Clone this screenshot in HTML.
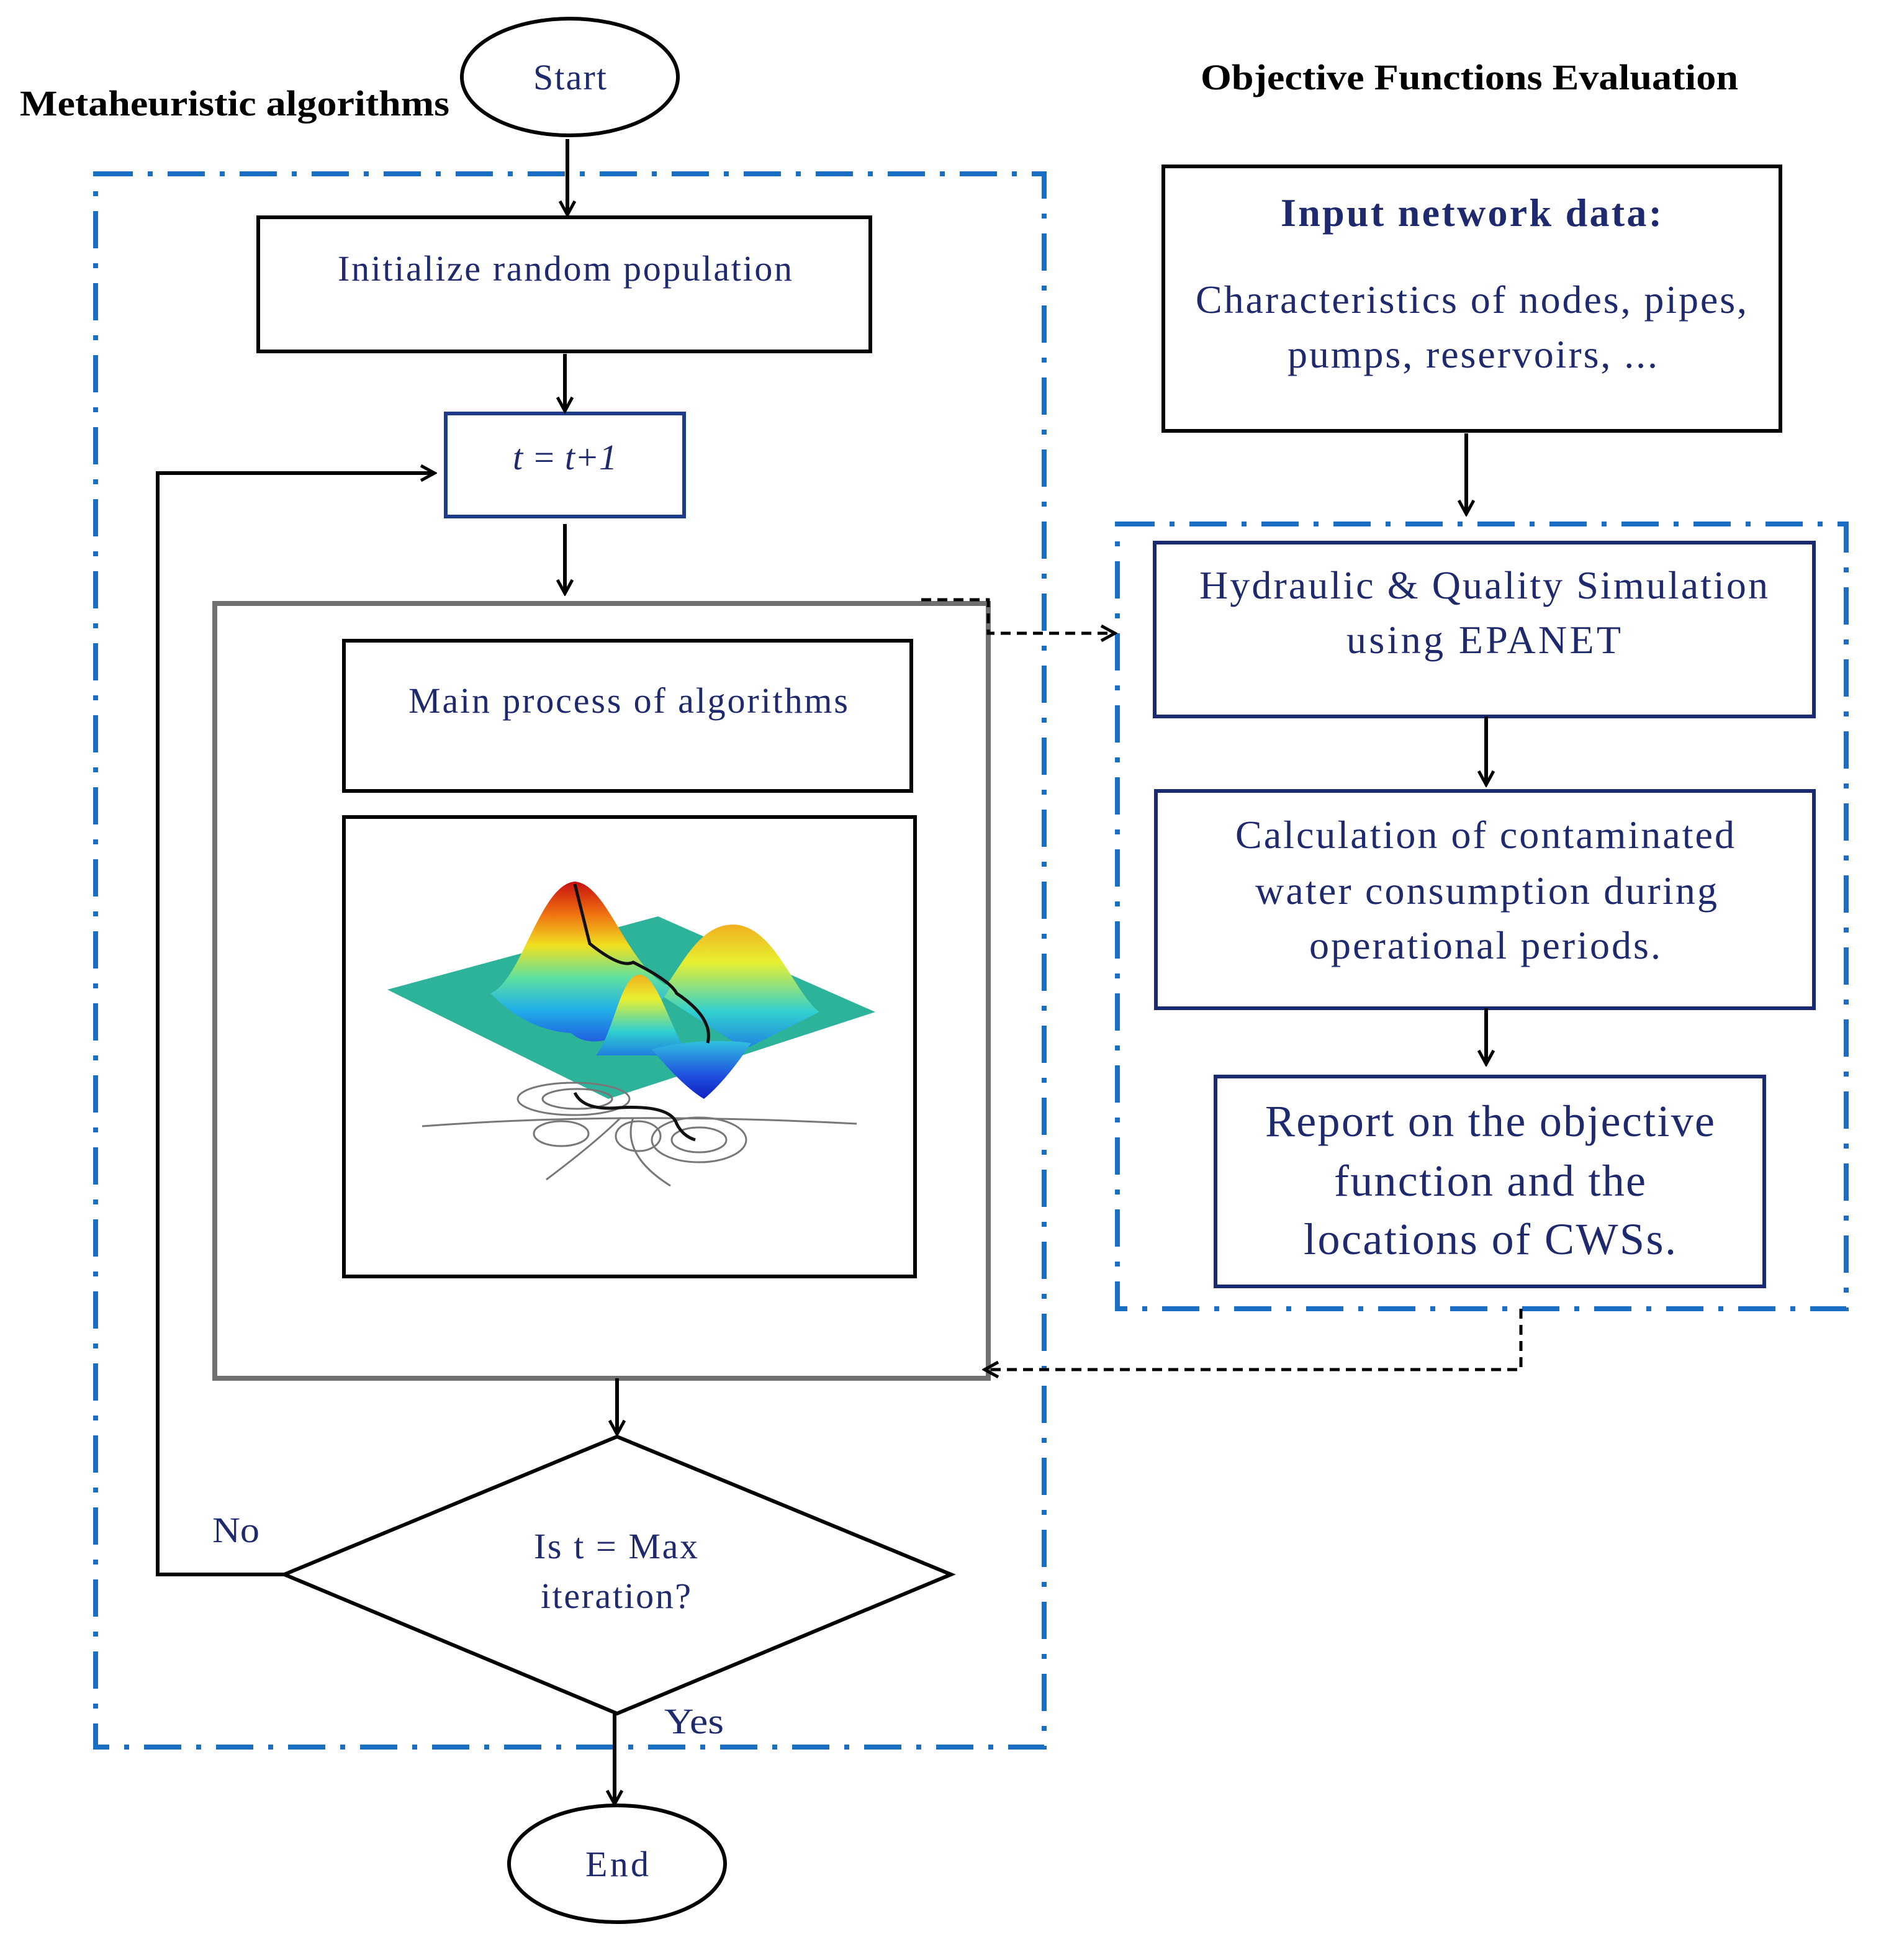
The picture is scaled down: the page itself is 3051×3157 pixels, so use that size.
<!DOCTYPE html>
<html><head><style>html,body{margin:0;padding:0;background:#fff}svg{display:block}</style></head>
<body>
<svg width="3051" height="3157" viewBox="0 0 1525.5 1578.5" xmlns="http://www.w3.org/2000/svg" font-family="Liberation Serif, serif">
<defs>
<marker id="ah" markerWidth="14" markerHeight="14" refX="12" refY="7" orient="auto" markerUnits="userSpaceOnUse"><path d="M1,1 L12,7 L1,13" fill="none" stroke="#000" stroke-width="2.5"/></marker>
<linearGradient id="red" x1="0" y1="0" x2="0" y2="1"><stop offset="0" stop-color="#c81010"/><stop offset="0.2" stop-color="#f07010"/><stop offset="0.4" stop-color="#f0e020"/><stop offset="0.6" stop-color="#60e0a0"/><stop offset="0.8" stop-color="#20b0e8"/><stop offset="1" stop-color="#2060e0"/></linearGradient>
<linearGradient id="yel" x1="0" y1="0" x2="0" y2="1"><stop offset="0" stop-color="#f0b020"/><stop offset="0.3" stop-color="#e8f030"/><stop offset="0.7" stop-color="#30d0d0"/><stop offset="1" stop-color="#2080e0"/></linearGradient>
<linearGradient id="blu" x1="0" y1="0" x2="0" y2="1"><stop offset="0" stop-color="#30c0e0"/><stop offset="0.6" stop-color="#2050e0"/><stop offset="1" stop-color="#1020c0"/></linearGradient>
</defs>
<g fill="none" stroke-linecap="butt">
<rect x="77" y="140" width="764" height="1267" stroke="#1a6fc4" stroke-width="4" stroke-dasharray="30,12,4,12"/>
<rect x="900" y="422" width="587" height="632" stroke="#1a6fc4" stroke-width="4" stroke-dasharray="30,12,4,12"/>
<ellipse cx="459" cy="62" rx="87" ry="47" stroke="#000" stroke-width="3"/>
<ellipse cx="497" cy="1501" rx="87" ry="47" stroke="#000" stroke-width="3"/>
<rect x="208" y="175" width="493" height="108" stroke="#000" stroke-width="3"/>
<rect x="359" y="333" width="192" height="83" stroke="#1f3a8a" stroke-width="3"/>
<rect x="173" y="486" width="623" height="624" stroke="#707070" stroke-width="4"/>
<rect x="277" y="516" width="457" height="121" stroke="#000" stroke-width="3"/>
<rect x="277" y="658" width="460" height="370" stroke="#000" stroke-width="3"/>
<polygon points="497,1157 766,1268 497,1380 229,1268" stroke="#000" stroke-width="3"/>
<rect x="937" y="134" width="497" height="213" stroke="#000" stroke-width="3"/>
<rect x="930" y="437" width="531" height="140" stroke="#1a2a70" stroke-width="3"/>
<rect x="931" y="637" width="530" height="175" stroke="#1a2a70" stroke-width="3"/>
<rect x="979" y="867" width="442" height="169" stroke="#1a2a70" stroke-width="3"/>
<g stroke="#000" stroke-width="3" marker-end="url(#ah)">
<line x1="457" y1="112" x2="457" y2="173"/>
<line x1="455" y1="285" x2="455" y2="331"/>
<line x1="455" y1="422" x2="455" y2="478"/>
<line x1="497" y1="1110" x2="497" y2="1155"/>
<line x1="495" y1="1380" x2="495" y2="1453"/>
<polyline points="229,1268 127,1268 127,381 350,381"/>
<line x1="1181" y1="349" x2="1181" y2="414"/>
<line x1="1197" y1="577" x2="1197" y2="632"/>
<line x1="1197" y1="812" x2="1197" y2="857"/>
</g>
<g stroke="#000" stroke-width="2.5" stroke-dasharray="8,5" marker-end="url(#ah)">
<polyline points="742,483 796,483 796,510 898,510"/>
<polyline points="1225,1054 1225,1103 793,1103"/>
</g>
<!-- surface plot -->
<polygon points="312,797 530,738 705,815 490,885" fill="#2db39a"/>
<path d="M530,800 C545,790 560,740 595,745 C625,750 640,800 660,815 L600,845 Z" fill="url(#yel)"/>
<path d="M395,800 C420,790 435,712 463,710 C490,712 505,780 540,795 C520,830 480,850 460,832 C430,830 410,815 395,800 Z" fill="url(#red)"/>
<path d="M480,850 C495,830 500,785 515,785 C530,785 540,830 555,850 Z" fill="url(#yel)"/>
<path d="M525,845 Q565,835 605,840 Q585,870 567,885 Q550,875 525,845Z" fill="url(#blu)"/>
<path d="M463,712 Q470,740 475,760 Q500,780 510,775 Q540,790 545,800 Q575,820 570,840" stroke="#111" stroke-width="2.5"/>
<g stroke="#777" stroke-width="1.5">
<path d="M340,907 Q500,895 690,905"/>
<ellipse cx="462" cy="885" rx="45" ry="13"/><ellipse cx="465" cy="885" rx="28" ry="8"/>
<ellipse cx="452" cy="913" rx="22" ry="10"/><ellipse cx="514" cy="915" rx="18" ry="12"/>
<ellipse cx="563" cy="918" rx="38" ry="18"/><ellipse cx="563" cy="918" rx="22" ry="10"/>
<path d="M440,950 Q480,920 500,900"/><path d="M540,955 Q500,930 510,900"/>
</g>
<path d="M463,880 Q470,895 500,892 Q540,890 545,905 Q550,915 560,918" stroke="#111" stroke-width="2.5"/>
</g>
<g font-size="29" fill="#1f2a6e" text-anchor="middle" lengthAdjust="spacingAndGlyphs">
<text x="459" y="72" textLength="59">Start</text>
<text x="497" y="1511" textLength="51">End</text>
<text x="455" y="226" textLength="366">Initialize random population</text>
<text x="455" y="378" font-style="italic" textLength="84">t = t+1</text>
<text x="506" y="574" textLength="354">Main process of algorithms</text>
<text x="496" y="1255" textLength="132">Is t = Max</text>
<text x="496" y="1295" textLength="121">iteration?</text>
<text x="1185" y="182" font-weight="bold" font-size="32" textLength="307">Input network data:</text>
<text x="1185" y="252" font-size="32" textLength="444">Characteristics of nodes, pipes,</text>
<text x="1186" y="296" font-size="32" textLength="298">pumps, reservoirs, ...</text>
<text x="1195" y="482" font-size="32" textLength="458">Hydraulic &amp; Quality Simulation</text>
<text x="1195" y="526" font-size="32" textLength="221">using EPANET</text>
<text x="1196" y="683" font-size="32" textLength="402">Calculation of contaminated</text>
<text x="1197" y="728" font-size="32" textLength="372">water consumption during</text>
<text x="1196" y="772" font-size="32" textLength="283">operational periods.</text>
<text x="1200" y="915" font-size="36" textLength="362">Report on the objective</text>
<text x="1200" y="963" font-size="36" textLength="251">function and the</text>
<text x="1200" y="1010" font-size="36" textLength="300">locations of CWSs.</text>
</g>
<text x="171" y="1242" font-size="29" fill="#1f2a6e" textLength="38" lengthAdjust="spacingAndGlyphs">No</text>
<text x="535" y="1396" font-size="29" fill="#1f2a6e" textLength="48" lengthAdjust="spacingAndGlyphs">Yes</text>
<text x="16" y="93" font-size="29" font-weight="bold" fill="#000" textLength="346" lengthAdjust="spacingAndGlyphs">Metaheuristic algorithms</text>
<text x="967" y="72" font-size="29" font-weight="bold" fill="#000" textLength="433" lengthAdjust="spacingAndGlyphs">Objective Functions Evaluation</text>
</svg>
</body></html>
